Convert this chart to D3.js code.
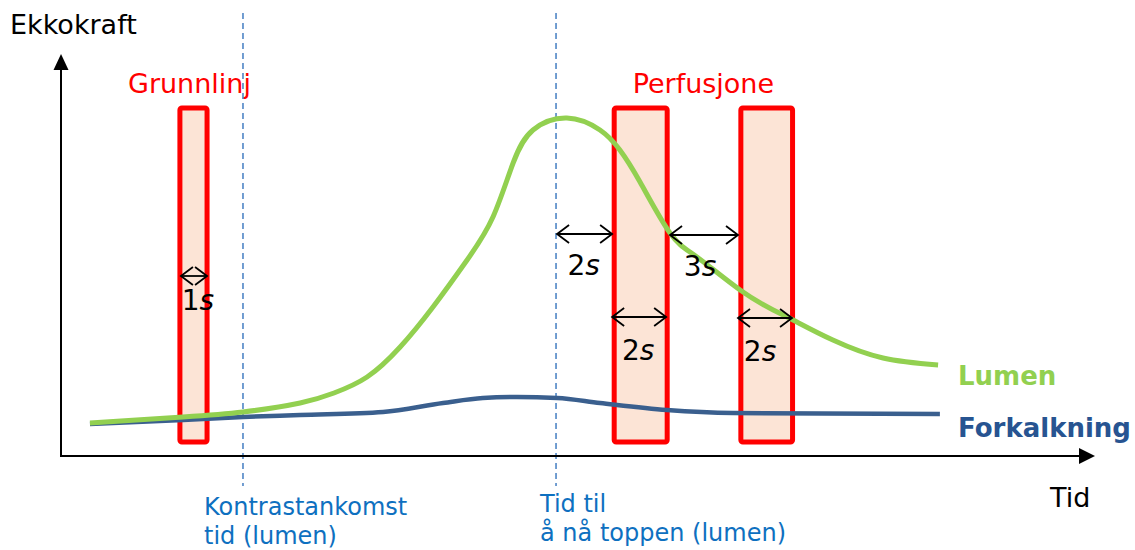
<!DOCTYPE html>
<html>
<head>
<meta charset="utf-8">
<script src="https://cdn.jsdelivr.net/npm/d3@7/dist/d3.min.js"></script>
<style>
  html, body { margin: 0; padding: 0; background: #ffffff; }
  svg { display: block; font-family: "DejaVu Sans", Verdana, sans-serif; }
</style>
</head>
<body>
<svg id="chart" width="1135" height="550"></svg>
<script>
// Time (s) and echo intensity (relative units) samples of the two curves
const lumenTime = [1.12, 4.72, 7.04, 9.25, 10.56, 11.84, 13.12, 14.39, 15.71, 16.71, 17.49, 18.26, 19.57, 20.85, 21.62, 22.4, 23.56, 24.6, 26.27, 27.55, 28.32, 29.86, 31.8, 33.93];
const lumenValue = [8.25, 9.75, 11, 13.25, 15.75, 19.75, 27.25, 37.25, 49, 59.75, 73.25, 81.5, 84.5, 81.5, 76.5, 68.5, 55.75, 49.75, 41.5, 36.5, 34, 29, 24.5, 22.75];

const calcTime = [1.12, 4.72, 7.04, 9.25, 12.46, 14.78, 16.32, 17.64, 19.19, 20.85, 23.44, 26.0, 34.0];
const calcValue = [8.0, 9.0, 9.75, 10.25, 11, 13.25, 14.5, 14.75, 14.5, 13.25, 11.5, 10.75, 10.5];

// Sampling windows (start, end in s)
const windowStart = [4.6, 21.4, 26.3];
const windowEnd = [5.65, 23.45, 28.3];
const windowGroupLabels = ["Grunnlinj", "Perfusjone", "Perfusjone"];

// Reference times (dashed markers)
const markerTimes = [7.04, 19.15];
const markerLines = [["Kontrastankomst", "tid (lumen)"], ["Tid til", "å nå toppen (lumen)"]];

// Interval arrows
const intervalFrom = [4.64, 19.19, 23.56, 21.32, 26.19];
const intervalTo = [5.65, 21.32, 26.19, 23.41, 28.28];
const intervalLevel = [45, 55.5, 55.25, 34.75, 34.5];
const intervalLabel = ["1", "2", "3", "2", "2"];

const seriesNames = ["Lumen", "Forkalkning"];
const axisTitles = ["Ekkokraft", "Tid"];

const svg = d3.select("#chart");
const x = d3.scaleLinear().domain([0, 40]).range([61, 1095]);
const y = d3.scaleLinear().domain([0, 100]).range([456, 56]);

const RED = "#ff0000", FILL = "#fce4d6", GREEN = "#92d050", NAVY = "#3a5f8e", NAVY_TXT = "#275491", MARK = "#4f86c6", LBL = "#0e70c0";

// Sampling windows (drawn first so curves pass over them)
const wins = windowStart.map((s, i) => ({ s, e: windowEnd[i] }));
svg.append("g").selectAll("rect").data(wins).join("rect")
  .attr("x", d => x(d.s)).attr("width", d => x(d.e) - x(d.s))
  .attr("y", y(87)).attr("height", y(3.5) - y(87))
  .attr("rx", 2)
  .attr("fill", FILL).attr("stroke", RED).attr("stroke-width", 5);

// Group titles above windows
const groups = d3.groups(wins.map((w, i) => ({ ...w, label: windowGroupLabels[i] })), d => d.label);
svg.append("g").selectAll("text").data(groups).join("text")
  .attr("x", ([, ws]) => (x(d3.min(ws, w => w.s)) + x(d3.max(ws, w => w.e))) / 2 - (ws.length === 1 ? 4 : 0))
  .attr("y", 93)
  .attr("text-anchor", "middle")
  .attr("fill", RED).attr("font-size", 27)
  .text(([label]) => label);

// Dashed markers
svg.append("g").selectAll("line").data(markerTimes).join("line")
  .attr("x1", d => x(d)).attr("x2", d => x(d))
  .attr("y1", y(110.75)).attr("y2", y(-7.5))
  .attr("stroke", MARK).attr("stroke-width", 1.6).attr("stroke-dasharray", "6,4");

const markerLabelX = [204, 540];
const markerLabelY = [515, 512];
const mg = svg.append("g").attr("fill", LBL).attr("font-size", 24);
markerLines.forEach((lines, i) => {
  lines.forEach((t, j) => {
    mg.append("text").attr("x", markerLabelX[i]).attr("y", markerLabelY[i] + j * 29).text(t);
  });
});

// Curves
const calc = calcTime.map((t, i) => [t, calcValue[i]]);
const lumen = lumenTime.map((t, i) => [t, lumenValue[i]]);
const smooth = d3.line().x(d => x(d[0])).y(d => y(d[1])).curve(d3.curveNatural);
svg.append("path").attr("d", d3.line().x(d => x(d[0])).y(d => y(d[1])).curve(d3.curveMonotoneX)(calc))
  .attr("fill", "none").attr("stroke", NAVY).attr("stroke-width", 4.5);
svg.append("path").attr("d", smooth(lumen)).attr("fill", "none")
  .attr("stroke", GREEN).attr("stroke-width", 5);

// Series labels
svg.append("text").attr("x", 958).attr("y", 385).attr("fill", GREEN)
  .attr("font-size", 26).attr("font-weight", "bold").text(seriesNames[0]);
svg.append("text").attr("x", 958).attr("y", 437).attr("fill", NAVY_TXT)
  .attr("font-size", 26).attr("font-weight", "bold").text(seriesNames[1]);

// Interval arrows and their labels
const labelDx = [4, -1, -4, -1, -5];
const labelDy = [34, 41, 41, 43, 43];
const ag = svg.append("g").attr("stroke", "#000").attr("stroke-width", 1.8).attr("fill", "none");
const tg = svg.append("g").attr("fill", "#000").attr("font-size", 28).attr("text-anchor", "middle");
intervalFrom.forEach((f, i) => {
  const x1 = x(f), x2 = x(intervalTo[i]), yy = y(intervalLevel[i]);
  const h = 9, w = 12;
  ag.append("line").attr("x1", x1).attr("x2", x2).attr("y1", yy).attr("y2", yy);
  ag.append("path").attr("d", `M${x1 + w},${yy - h}L${x1},${yy}L${x1 + w},${yy + h}`);
  ag.append("path").attr("d", `M${x2 - w},${yy - h}L${x2},${yy}L${x2 - w},${yy + h}`);
  const t = tg.append("text").attr("x", (x1 + x2) / 2 + labelDx[i]).attr("y", yy + labelDy[i]);
  t.append("tspan").text(intervalLabel[i]);
  t.append("tspan").attr("font-style", "italic").text("s");
});

// Axes with arrowheads
const axes = svg.append("g");
axes.append("line").attr("x1", x(0)).attr("x2", x(0)).attr("y1", y(0)).attr("y2", 66)
  .attr("stroke", "#000").attr("stroke-width", 2);
axes.append("path").attr("d", `M${x(0)},54L${x(0) - 7.5},70L${x(0) + 7.5},70Z`).attr("fill", "#000");
axes.append("line").attr("x1", x(0) - 1).attr("x2", 1082).attr("y1", y(0)).attr("y2", y(0))
  .attr("stroke", "#000").attr("stroke-width", 2);
axes.append("path").attr("d", `M1095,${y(0)}L1079,${y(0) - 8}L1079,${y(0) + 8}Z`).attr("fill", "#000");

svg.append("text").attr("x", 10).attr("y", 34).attr("font-size", 27).attr("fill", "#000").text(axisTitles[0]);
svg.append("text").attr("x", 1050).attr("y", 507).attr("font-size", 27).attr("fill", "#000").text(axisTitles[1]);
</script>
</body>
</html>
